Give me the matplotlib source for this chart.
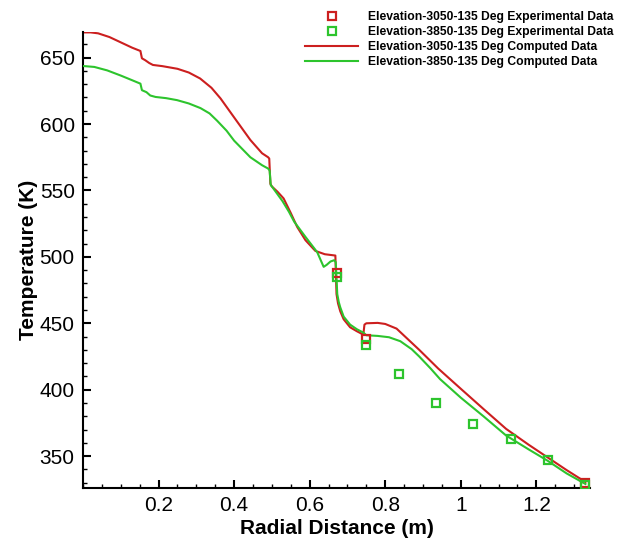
import matplotlib
matplotlib.use("Agg")
import matplotlib.pyplot as plt
from matplotlib.ticker import FixedLocator, MultipleLocator

# Computed temperature profiles (radial distance in m, temperature in K)
x_calc_3050 = [0, 0.02, 0.04, 0.07, 0.10, 0.13, 0.152, 0.156, 0.165, 0.175, 0.185,
               0.21, 0.25, 0.28, 0.31, 0.34, 0.364, 0.40, 0.443, 0.474, 0.490,
               0.493, 0.496, 0.50, 0.515, 0.531, 0.55, 0.567, 0.589, 0.615, 0.64,
               0.668, 0.671, 0.675, 0.681, 0.69, 0.707, 0.725, 0.742, 0.745, 0.75,
               0.78, 0.80, 0.83, 0.86, 0.89, 0.94, 1.0, 1.06, 1.12, 1.18, 1.23,
               1.28, 1.33]
t_calc_3050 = [669, 669, 668.3, 665.5, 661.5, 657.5, 655, 649.5, 648, 646, 644.5,
               643.6, 641.6, 638.8, 634.3, 627.3, 619.3, 605, 588, 578, 575,
               574, 555, 553, 549, 544, 533, 522.5, 512.5, 504.5, 502,
               501, 472, 465, 459, 453, 447, 444, 441.5, 449, 450,
               450.3, 449.5, 446, 438, 430, 416, 400.7, 385.5, 370.5, 358.5, 349,
               339.5, 330.5]

x_calc_3850 = [0, 0.03, 0.064, 0.10, 0.13, 0.152, 0.156, 0.168, 0.178, 0.192, 0.22,
               0.249, 0.28, 0.311, 0.335, 0.355, 0.38, 0.40, 0.443, 0.474, 0.490,
               0.494, 0.497, 0.50, 0.528, 0.545, 0.559, 0.589, 0.62, 0.63, 0.637,
               0.645, 0.655, 0.665, 0.669, 0.673, 0.677, 0.681, 0.69, 0.707, 0.725,
               0.742, 0.75, 0.78, 0.81, 0.84, 0.87, 0.89, 0.92, 0.945, 1.0, 1.06,
               1.12, 1.18, 1.23, 1.28, 1.33]
t_calc_3850 = [643.7, 643, 640.4, 636.5, 633, 630.4, 625.5, 624, 621.5, 620.4, 619.5,
               618, 615.5, 612, 608, 602.5, 595, 587.5, 575, 569, 566.5,
               565, 554, 553, 542, 534, 526.5, 515, 503.5, 497, 492.5,
               494, 496.5, 497.5, 496, 472, 466, 462, 455, 449, 445.5,
               443, 441, 440.5, 439.5, 436.5, 430.5, 425, 416, 408, 394, 380,
               365.5, 355, 346.5, 337, 329]

# Measured temperatures
x_exp_3050 = [0.672, 0.749, 1.330]
t_exp_3050 = [488, 438.5, 330]

x_exp_3850 = [0.672, 0.749, 0.836, 0.935, 1.032, 1.132, 1.232, 1.330]
t_exp_3850 = [485, 434, 412, 390, 374, 363, 347, 328]

x_ticks = [0.2, 0.4, 0.6, 0.8, 1.0, 1.2]
x_tick_labels = ["0.2", "0.4", "0.6", "0.8", "1", "1.2"]
y_ticks = [350, 400, 450, 500, 550, 600, 650]
y_tick_labels = ["350", "400", "450", "500", "550", "600", "650"]

labels = ["Elevation-3050-135 Deg Experimental Data",
          "Elevation-3850-135 Deg Experimental Data",
          "Elevation-3050-135 Deg Computed Data",
          "Elevation-3850-135 Deg Computed Data"]

RED = "#cc1f1f"
GREEN = "#2dc42d"

plt.rcParams["font.family"] = ["Liberation Sans", "DejaVu Sans"]

fig = plt.figure(figsize=(6.28, 5.43), dpi=100)
ax = fig.add_axes([83 / 628, 1 - 488 / 543, (590 - 83) / 628, (488 - 32) / 543])

h1, = ax.plot(x_exp_3050, t_exp_3050, linestyle="none", marker="s", markersize=6,
              markerfacecolor="none", markeredgecolor=RED, markeredgewidth=1.6, zorder=4)
h2, = ax.plot(x_exp_3850, t_exp_3850, linestyle="none", marker="s", markersize=6,
              markerfacecolor="none", markeredgecolor=GREEN, markeredgewidth=1.6, zorder=5)
h3, = ax.plot(x_calc_3050, t_calc_3050, color=RED, linewidth=1.5, zorder=2)
h4, = ax.plot(x_calc_3850, t_calc_3850, color=GREEN, linewidth=1.5, zorder=3)

ax.set_xlim(0, 1.342)
ax.set_ylim(326, 669.3)

ax.xaxis.set_major_locator(FixedLocator(x_ticks))
ax.set_xticklabels(x_tick_labels)
ax.xaxis.set_minor_locator(MultipleLocator(0.05))
ax.yaxis.set_major_locator(FixedLocator(y_ticks))
ax.set_yticklabels(y_tick_labels)
ax.yaxis.set_minor_locator(MultipleLocator(10))

for side in ("top", "right"):
    ax.spines[side].set_visible(False)
for side in ("left", "bottom"):
    ax.spines[side].set_linewidth(1.5)

ax.tick_params(which="major", direction="in", length=5.5, width=1.5,
               labelsize=15, pad=6)
ax.tick_params(which="minor", direction="in", length=3, width=1.0)

ax.set_xlabel("Radial Distance (m)", fontsize=15, fontweight="bold", labelpad=3)
ax.set_ylabel("Temperature (K)", fontsize=15, fontweight="bold", labelpad=1)

fig.legend([h1, h2, h3, h4], labels, loc="upper left",
           bbox_to_anchor=(305 / 628, 1 - 11 / 543), frameon=False,
           prop={"size": 8.7, "weight": "bold"}, handlelength=4.4,
           handletextpad=0.8, labelspacing=0.25, borderpad=0, borderaxespad=0)

fig.savefig("out.png", dpi=100)
